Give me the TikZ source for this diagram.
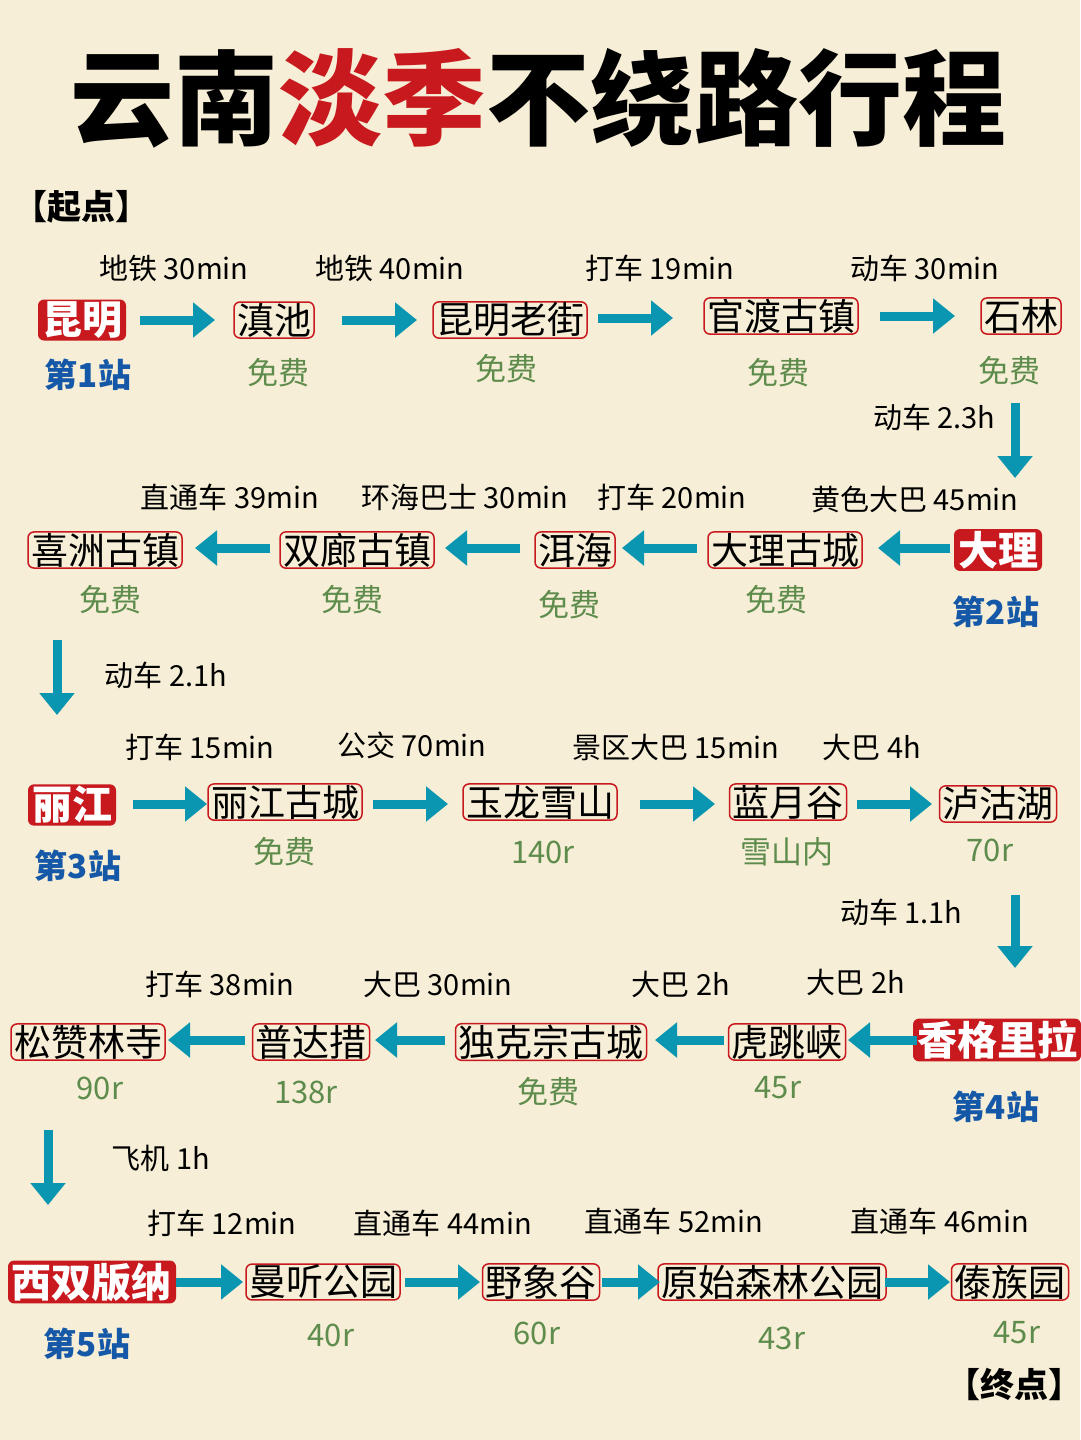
\documentclass[tikz,border=0pt]{standalone}
\usepackage{fontspec}
\setmainfont{Noto Sans CJK SC}
\usetikzlibrary{arrows.meta}
\definecolor{bg}{HTML}{F6EED6}
\definecolor{rd}{HTML}{C8191E}
\definecolor{tl}{HTML}{0A95B0}
\definecolor{bl}{HTML}{1658A8}
\definecolor{gr}{HTML}{5E8C4C}
\tikzset{
 place/.style={draw=rd,line width=1.5pt,rounded corners=6pt,inner xsep=3pt,inner ysep=1pt,font=\fontsize{37}{39}\selectfont},
 hub/.style={fill=rd,rounded corners=6pt,inner xsep=4pt,inner ysep=2pt,text=white,font=\fontsize{40}{42}\selectfont\bfseries},
 lab/.style={font=\fontsize{29}{31}\selectfont},
 fee/.style={text=gr,font=\fontsize{31}{33}\selectfont},
 stn/.style={text=bl,font=\fontsize{33}{35}\selectfont\bfseries},
 arr/.style={draw=tl,line width=9pt,-{Triangle[length=22pt,width=34pt]}},
}
\begin{document}
\begin{tikzpicture}[x=1pt,y=-1pt]
\fill[bg] (0,0) rectangle (1080,1440);
\useasboundingbox (0,0) rectangle (1080,1440);
\node[font=\fontsize{104}{108}\selectfont\bfseries] (title) at (538,98) {云南\textcolor{rd}{淡季}不绕路行程};
\node[anchor=west,font=\fontsize{34}{36}\selectfont\bfseries] (start) at (10,207) {【起点】};
\node[anchor=east,font=\fontsize{34}{36}\selectfont\bfseries] (end) at (1086,1384) {【终点】};
% row1
\node[hub] (a0) at (82,320) {昆明};
\node[place] (a1) at (274,320) {滇池};
\node[place] (a2) at (510,320) {昆明老街};
\node[place] (a3) at (781,316) {官渡古镇};
\node[place] (a4) at (1021,316) {石林};
\coordinate (p1) at (140,320);\coordinate (q1) at (215,320);
\coordinate (p2) at (342,320);\coordinate (q2) at (417,320);
\coordinate (p3) at (598,318);\coordinate (q3) at (673,318);
\coordinate (p4) at (880,316);\coordinate (q4) at (955,316);
\foreach \i in {1,2,3,4} \draw[arr] (p\i) -- (q\i);
\node[lab] (l11) at (174,268) {地铁 30min};
\node[lab] (l12) at (390,268) {地铁 40min};
\node[lab] (l13) at (660,268) {打车 19min};
\node[lab] (l14) at (925,268) {动车 30min};
\node[stn] (s1) at (88,375) {第1站};
\node[fee] (f11) at (278,373) {免费};
\node[fee] (f12) at (506,369) {免费};
\node[fee] (f13) at (778,373) {免费};
\node[fee] (f14) at (1009,371) {免费};
\coordinate (d1a) at (1015,403);\coordinate (d1b) at (1015,478);
\draw[arr] (d1a) -- (d1b);
\node[lab,anchor=east] (ld1) at (999,417) {动车 2.3h};
% row2
\node[place] (b4) at (105,550) {喜洲古镇};
\node[place] (b3) at (357,550) {双廊古镇};
\node[place] (b2) at (575,550) {洱海};
\node[place] (b1) at (785,550) {大理古城};
\node[hub] (b0) at (998,550) {大理};
\coordinate (r1) at (950,548);\coordinate (t1) at (878,548);
\coordinate (r2) at (697,548);\coordinate (t2) at (622,548);
\coordinate (r3) at (520,548);\coordinate (t3) at (445,548);
\coordinate (r4) at (270,548);\coordinate (t4) at (195,548);
\foreach \i in {1,2,3,4} \draw[arr] (r\i) -- (t\i);
\node[lab] (l21) at (230,497) {直通车 39min};
\node[lab] (l22) at (465,497) {环海巴士 30min};
\node[lab] (l23) at (672,497) {打车 20min};
\node[lab] (l24) at (915,499) {黄色大巴 45min};
\node[fee] (f21) at (110,600) {免费};
\node[fee] (f22) at (352,600) {免费};
\node[fee] (f23) at (569,605) {免费};
\node[fee] (f24) at (776,600) {免费};
\node[stn] (s2) at (996,612) {第2站};
\coordinate (d2a) at (57,640);\coordinate (d2b) at (57,715);
\draw[arr] (d2a) -- (d2b);
\node[lab,anchor=west] (ld2) at (101,675) {动车 2.1h};
% row3
\node[hub] (c0) at (72,805) {丽江};
\node[place] (c1) at (285,802) {丽江古城};
\node[place] (c2) at (540,802) {玉龙雪山};
\node[place] (c3) at (788,802) {蓝月谷};
\node[place] (c4) at (998,804) {泸沽湖};
\coordinate (u1) at (133,804);\coordinate (v1) at (207,804);
\coordinate (u2) at (373,804);\coordinate (v2) at (448,804);
\coordinate (u3) at (640,804);\coordinate (v3) at (715,804);
\coordinate (u4) at (857,804);\coordinate (v4) at (932,804);
\foreach \i in {1,2,3,4} \draw[arr] (u\i) -- (v\i);
\node[lab] (l31) at (200,747) {打车 15min};
\node[lab] (l32) at (412,745) {公交 70min};
\node[lab] (l33) at (676,747) {景区大巴 15min};
\node[lab] (l34) at (872,747) {大巴 4h};
\node[stn] (s3) at (78,866) {第3站};
\node[fee] (f31) at (284,852) {免费};
\node[fee] (f32) at (543,852) {140r};
\node[fee] (f33) at (787,852) {雪山内};
\node[fee] (f34) at (990,850) {70r};
\coordinate (d3a) at (1015,895);\coordinate (d3b) at (1015,968);
\draw[arr] (d3a) -- (d3b);
\node[lab,anchor=east] (ld3) at (966,912) {动车 1.1h};
% row4
\node[place] (e4) at (88,1042) {松赞林寺};
\node[place] (e3) at (311,1042) {普达措};
\node[place] (e2) at (551,1042) {独克宗古城};
\node[place] (e1) at (787,1042) {虎跳峡};
\node[hub] (e0) at (997,1040) {香格里拉};
\coordinate (g1) at (917,1040);\coordinate (h1) at (848,1040);
\coordinate (g2) at (724,1040);\coordinate (h2) at (655,1040);
\coordinate (g3) at (445,1040);\coordinate (h3) at (375,1040);
\coordinate (g4) at (245,1040);\coordinate (h4) at (168,1040);
\foreach \i in {1,2,3,4} \draw[arr] (g\i) -- (h\i);
\node[lab] (l41) at (220,984) {打车 38min};
\node[lab] (l42) at (438,984) {大巴 30min};
\node[lab] (l43) at (681,984) {大巴 2h};
\node[lab] (l44) at (856,982) {大巴 2h};
\node[fee] (f41) at (100,1088) {90r};
\node[fee] (f42) at (306,1092) {138r};
\node[fee] (f43) at (548,1092) {免费};
\node[fee] (f44) at (778,1088) {45r};
\node[stn] (s4) at (996,1107) {第4站};
\coordinate (d4a) at (48,1130);\coordinate (d4b) at (48,1205);
\draw[arr] (d4a) -- (d4b);
\node[lab,anchor=west] (ld4) at (108,1158) {飞机 1h};
% row5
\node[hub] (k0) at (92,1282) {西双版纳};
\node[place] (k1) at (323,1282) {曼听公园};
\node[place] (k2) at (541,1282) {野象谷};
\node[place] (k3) at (772,1282) {原始森林公园};
\node[place] (k4) at (1010,1282) {傣族园};
\coordinate (m1) at (176,1282);\coordinate (n1) at (243,1282);
\coordinate (m2) at (405,1282);\coordinate (n2) at (480,1282);
\coordinate (m3) at (602,1282);\coordinate (n3) at (660,1282);
\coordinate (m4) at (885,1282);\coordinate (n4) at (950,1282);
\foreach \i in {1,2,3,4} \draw[arr] (m\i) -- (n\i);
\node[lab] (l51) at (222,1223) {打车 12min};
\node[lab] (l52) at (443,1223) {直通车 44min};
\node[lab] (l53) at (674,1221) {直通车 52min};
\node[lab] (l54) at (940,1221) {直通车 46min};
\node[stn] (s5) at (87,1344) {第5站};
\node[fee] (f51) at (331,1335) {40r};
\node[fee] (f52) at (537,1333) {60r};
\node[fee] (f53) at (782,1338) {43r};
\node[fee] (f54) at (1017,1333) {45r};
\end{tikzpicture}
\end{document}
